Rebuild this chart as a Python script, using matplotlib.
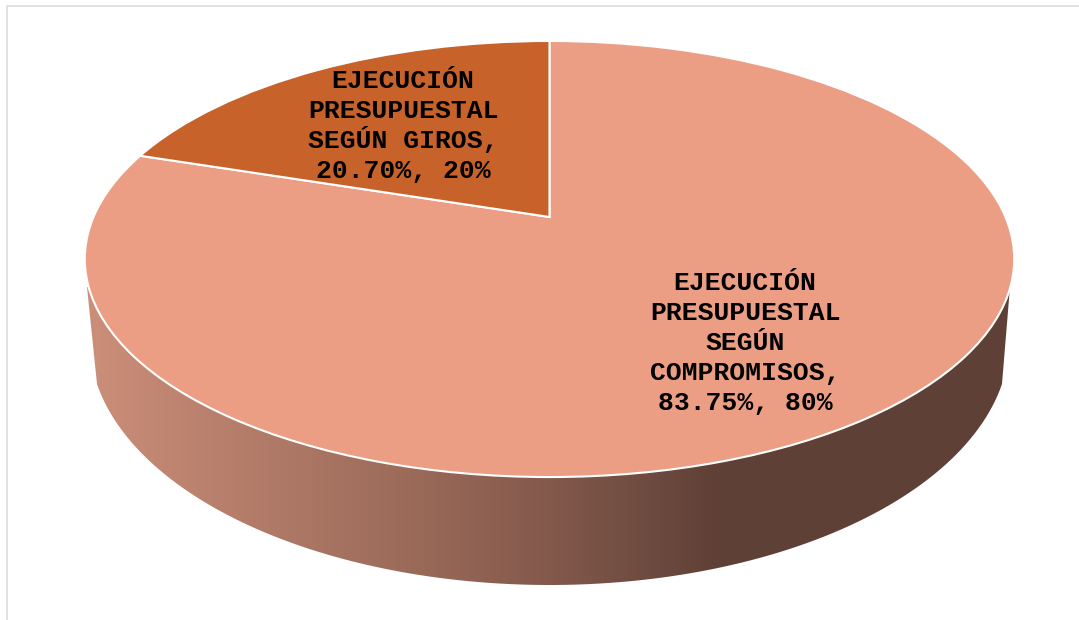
import numpy as np
import matplotlib
matplotlib.use("Agg")
import matplotlib.pyplot as plt
from matplotlib.colors import LinearSegmentedColormap
from matplotlib.patches import PathPatch
from matplotlib.path import Path
from matplotlib.transforms import Transform

# Chart data
category_lines = [
    ["EJECUCIÓN", "PRESUPUESTAL", "SEGÚN", "COMPROMISOS,"],
    ["EJECUCIÓN", "PRESUPUESTAL", "SEGÚN GIROS,"],
]
values = [83.75, 20.70]
shares = [80, 20]
colors = ["#EC9E85", "#C8622B"]
label_xy = [(745, 290), (403, 88)]  # first baseline of each label

WIDTH, HEIGHT = 1079, 620
LINE_STEP = 30


# Tilted disc: unit circle of the pie -> pixel coords, with perspective
class TiltedDisc(Transform):
    input_dims = 2
    output_dims = 2

    def transform_non_affine(self, values):
        u, v = values[:, 0], values[:, 1]
        w = 1 + 0.1927 * v
        return np.column_stack([549.5 + 456 * u / w, HEIGHT - (403 + 287.6 * v) / w])


fig = plt.figure(figsize=(WIDTH / 100, HEIGHT / 100), dpi=100)
ax = fig.add_axes([0, 0, 1, 1])

wedges, _ = ax.pie(
    shares,
    colors=colors,
    startangle=90,
    counterclock=False,
    wedgeprops={"edgecolor": "white", "linewidth": 1.5, "zorder": 3},
)
disc = TiltedDisc() + ax.transData
for wedge in wedges:
    wedge.set_transform(disc)
    wedge.set_clip_on(False)

# Side wall of the pie, a gradient clipped to the outline
t = np.linspace(np.pi - 0.181, 0.181, 120)
wall_xy = np.vstack(
    [
        [[87, 287]],
        np.column_stack([549.5 + 460 * np.cos(t), 340 + 245 * np.sin(t)]),
        [[1010, 287]],
    ]
)
wall_cmap = LinearSegmentedColormap.from_list(
    "wall", [(0, "#CB8E79"), (0.5, "#9C6B5A"), (0.73, "#83594C"), (1, "#5F4036")]
)
wall = PathPatch(Path(wall_xy, closed=False), facecolor="none", edgecolor="none")
ax.add_patch(wall)
img = ax.imshow(
    np.linspace(0, 1, 256).reshape(1, -1),
    cmap=wall_cmap,
    extent=(90, 720, 620, 0),
    aspect="auto",
    zorder=1,
)
# right of x=720 the wall is flat dark brown
dark = ax.imshow(
    np.ones((1, 2)),
    cmap=wall_cmap,
    vmin=0,
    vmax=1,
    extent=(720, 1020, 620, 0),
    aspect="auto",
    zorder=1,
)
left = ax.imshow(
    np.zeros((1, 2)),
    cmap=wall_cmap,
    vmin=0,
    vmax=1,
    extent=(80, 90, 620, 0),
    aspect="auto",
    zorder=1,
)
for im in (img, dark, left):
    im.set_clip_path(wall)

# Data labels, one text per line so the accents do not shift the spacing
for lines, val, share, (lx, ly) in zip(category_lines, values, shares, label_xy):
    for i, line in enumerate(lines + [f"{val:.2f}%, {share}%"]):
        ax.text(
            lx,
            ly + i * LINE_STEP,
            line,
            ha="center",
            va="baseline",
            family="Liberation Mono",
            weight="bold",
            fontsize=19,
            color="black",
            zorder=5,
        )

# Chart border
ax.plot([7, 7, WIDTH], [HEIGHT, 6, 6], color="#D9D9D9", lw=1.1, zorder=0)

ax.set_aspect("auto")
ax.set_xlim(0, WIDTH)
ax.set_ylim(HEIGHT, 0)
ax.axis("off")

fig.savefig("out.png", dpi=100, facecolor="white")
